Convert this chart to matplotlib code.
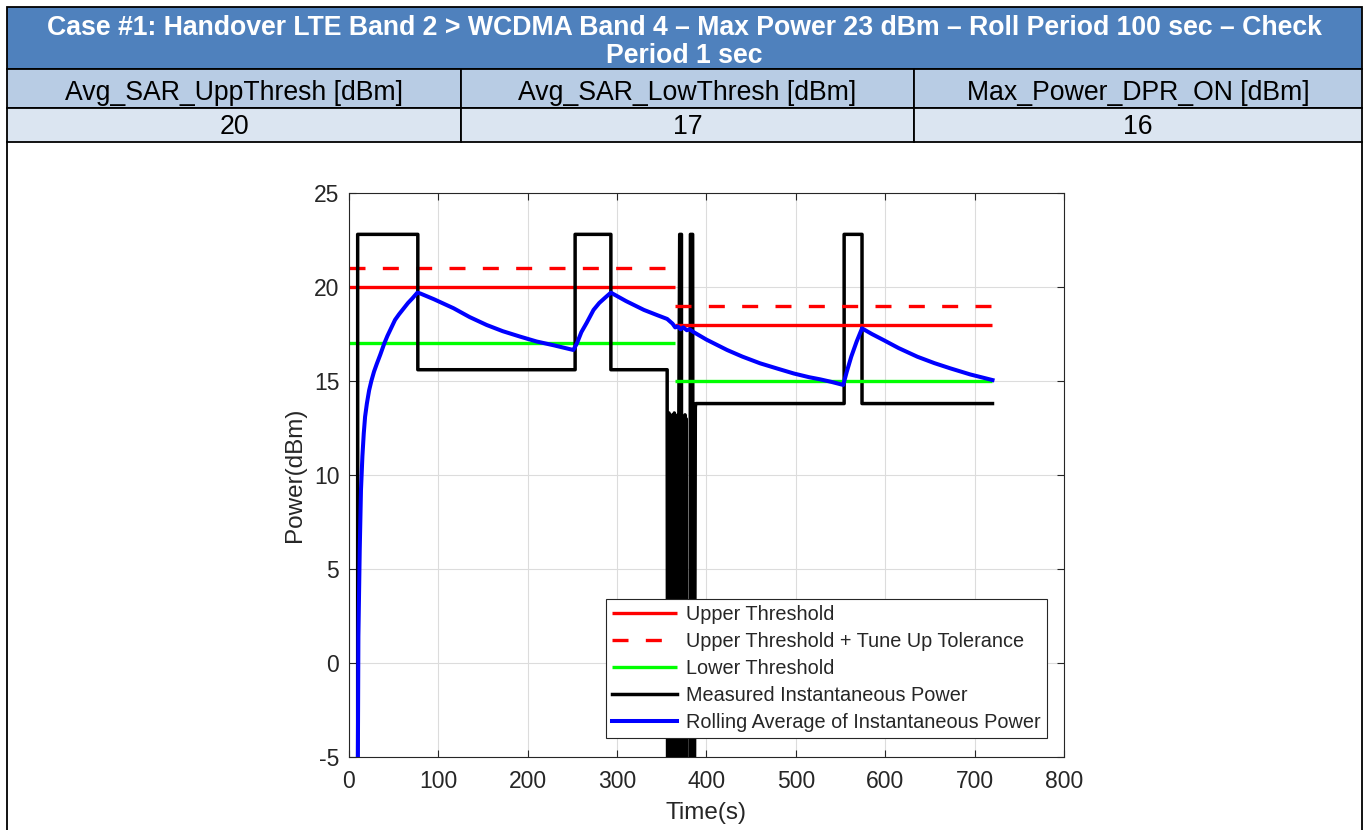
import matplotlib
matplotlib.use("Agg")
import matplotlib.pyplot as plt
from matplotlib.patches import Rectangle

plt.rcParams["font.family"] = ["Liberation Sans", "DejaVu Sans"]
plt.rcParams["axes.unicode_minus"] = False

# Table above the plot
title_lines = ["Case #1: Handover LTE Band 2 > WCDMA Band 4 \u2013 Max Power 23 dBm \u2013 Roll Period 100 sec \u2013 Check",
               "Period 1 sec"]
col_headers = ["Avg_SAR_UppThresh [dBm]", "Avg_SAR_LowThresh [dBm]", "Max_Power_DPR_ON [dBm]"]
col_values = ["20", "17", "16"]

# Thresholds, LTE phase then WCDMA phase after the handover
phase_start = [0, 365]
phase_end = [365, 720]
upper_thresh = [20, 18]
upper_tol = [21, 19]
lower_thresh = [17, 15]

# Measured instantaneous power (dBm); -30 = transmitter off (below the plot)
inst_time = [9.7, 9.7, 77, 77, 253, 253, 293, 293, 356, 356,
             357, 357, 358, 358, 359, 359, 360, 360, 361, 361,
             362, 362, 363, 363, 364, 364, 365, 365, 366, 366,
             367, 367, 368, 368, 369, 369, 370, 372, 372,
             373, 373, 374, 374, 375, 375, 376, 376, 377, 377, 378,
             381, 382, 384.5, 385.5, 387.5, 388, 554, 554, 574, 574, 720]
inst_power = [-30, 22.8, 22.8, 15.6, 15.6, 22.8, 22.8, 15.6, 15.6, 13.2,
              -30, 13.0, -30, 13.3, -30, 12.8, -30, 13.1, -30, 12.9,
              -30, 13.2, -30, 13.0, -30, 13.3, -30, 12.9, -30, 13.1,
              -30, 13.0, -30, 13.2, -30, 12.8, 22.8, 22.8, -30,
              13.0, -30, 13.1, -30, 12.9, -30, 13.2, -30, 13.0, -30, -30,
              -30, 22.8, 22.8, -30, 13.6, 13.8, 13.8, 22.8, 22.8, 13.8, 13.8]

# Rolling 100 s average of the instantaneous power (dBm)
avg_time = [9.3, 10.5, 12, 13.4, 15, 16.5, 18, 20, 22.5, 25, 28, 31, 35, 39.5, 43, 47, 51.5, 56, 61, 66, 71, 76.5,
            80, 95, 117, 135, 154, 172, 191.5, 210, 229, 251,
            255, 260, 266, 273.6, 280, 287, 293,
            310, 330, 345, 356, 362, 365, 368, 371, 374, 378, 381, 385.6,
            400, 423, 440, 460, 480, 497.6, 515, 527, 540, 553,
            557, 562, 568, 574,
            585, 598, 615, 636, 655, 673, 695, 720]
avg_power = [-12, 1.4, 6.0, 9.2, 11.0, 12.2, 13.1, 13.8, 14.5, 15.0, 15.5, 15.9, 16.4, 17.0, 17.4, 17.8, 18.25,
             18.55, 18.85, 19.15, 19.4, 19.7,
             19.65, 19.35, 18.87, 18.4, 17.98, 17.65, 17.36, 17.1, 16.9, 16.65,
             17.0, 17.6, 18.1, 18.78, 19.15, 19.45, 19.7,
             19.25, 18.78, 18.5, 18.3, 18.05, 17.85, 17.9, 17.75, 17.85, 17.7, 17.75, 17.6,
             17.2, 16.65, 16.3, 15.94, 15.65, 15.4, 15.2, 15.09, 14.95, 14.79,
             15.5, 16.3, 17.1, 17.8,
             17.5, 17.18, 16.75, 16.29, 15.95, 15.67, 15.35, 15.05]

W, H = 1368, 830
fig = plt.figure(figsize=(W / 100, H / 100), dpi=100)

# --- table drawn in pixel coordinates ---
bg = fig.add_axes([0, 0, 1, 1], zorder=0)
bg.set_xlim(0, W)
bg.set_ylim(H, 0)
bg.axis("off")

left, right = 7, 1362
col_x = [7, 461, 914, 1362]
row_y = [7, 69, 108, 142]
edge = dict(edgecolor="black", linewidth=1.3)
table_fs = 19.2

bg.add_patch(Rectangle((left, row_y[0]), right - left, row_y[1] - row_y[0], facecolor="#4F81BD", **edge))
bg.text(W / 2, (row_y[0] + row_y[1]) / 2 + 4, "\n".join(title_lines), ha="center", va="center",
        color="white", fontsize=table_fs, fontweight="bold", linespacing=1.12)
for i in range(3):
    x0, x1 = col_x[i], col_x[i + 1]
    bg.add_patch(Rectangle((x0, row_y[1]), x1 - x0, row_y[2] - row_y[1], facecolor="#B8CCE4", **edge))
    bg.add_patch(Rectangle((x0, row_y[2]), x1 - x0, row_y[3] - row_y[2], facecolor="#DBE5F1", **edge))
    bg.text((x0 + x1) / 2, (row_y[1] + row_y[2]) / 2 + 4, col_headers[i], ha="center", va="center",
            fontsize=table_fs, color="black")
    bg.text((x0 + x1) / 2, (row_y[2] + row_y[3]) / 2 + 2, col_values[i], ha="center", va="center",
            fontsize=table_fs, color="black")
bg.plot([left, left], [row_y[3], H + 5], color="black", lw=1.3)
bg.plot([right, right], [row_y[3], H + 5], color="black", lw=1.3)

# --- power plot ---
ax = fig.add_axes([349 / W, 1 - 757 / H, 715 / W, 564 / H], zorder=1)
axis_col = "#262626"

for k in range(2):
    z = 2 if k == 0 else 4
    ax.plot([phase_start[k], phase_end[k]], [upper_thresh[k]] * 2, color="#FF0000", lw=2.4,
            solid_capstyle="butt", zorder=z, label="Upper Threshold" if k == 0 else None)
    ax.plot([phase_start[k], phase_end[k]], [upper_tol[k]] * 2, color="#FF0000", lw=2.4,
            dashes=(4.8, 5.2), dash_capstyle="butt", zorder=z,
            label="Upper Threshold + Tune Up Tolerance" if k == 0 else None)
    ax.plot([phase_start[k], phase_end[k]], [lower_thresh[k]] * 2, color="#00FF00", lw=2.4,
            solid_capstyle="butt", zorder=z, label="Lower Threshold" if k == 0 else None)

ax.plot(inst_time, inst_power, color="black", lw=2.5, zorder=3, label="Measured Instantaneous Power")
ax.plot(avg_time, avg_power, color="#0000FF", lw=2.9, zorder=5, label="Rolling Average of Instantaneous Power")

ax.set_xlim(0, 800)
ax.set_ylim(-5, 25)
ax.set_xticks(range(0, 801, 100))
ax.set_yticks(range(-5, 26, 5))
ax.grid(True, color="#dcdcdc", lw=0.8)
ax.set_axisbelow(True)
ax.tick_params(direction="in", top=True, right=True, length=5, width=0.8, colors=axis_col,
               labelsize=16.5, pad=7)
ax.tick_params(axis="x", pad=9)
for s in ax.spines.values():
    s.set_color(axis_col)
    s.set_linewidth(0.8)

ax.set_xlabel("Time(s)", fontsize=17.5, color=axis_col)
ax.set_ylabel("Power(dBm)", fontsize=17.5, color=axis_col)
ax.xaxis.set_label_coords(0.5, -0.08)
ax.yaxis.set_label_coords(-0.06, 0.5)

leg = ax.legend(loc="lower right", bbox_to_anchor=(0.976, 0.034), fontsize=14.3, handlelength=3.3,
                fancybox=False, framealpha=1, edgecolor=axis_col, borderpad=0.3,
                labelspacing=0.4, handletextpad=0.45, borderaxespad=0)
leg.get_frame().set_linewidth(0.8)
for t in leg.get_texts():
    t.set_color(axis_col)

fig.savefig("out.png", dpi=100)
